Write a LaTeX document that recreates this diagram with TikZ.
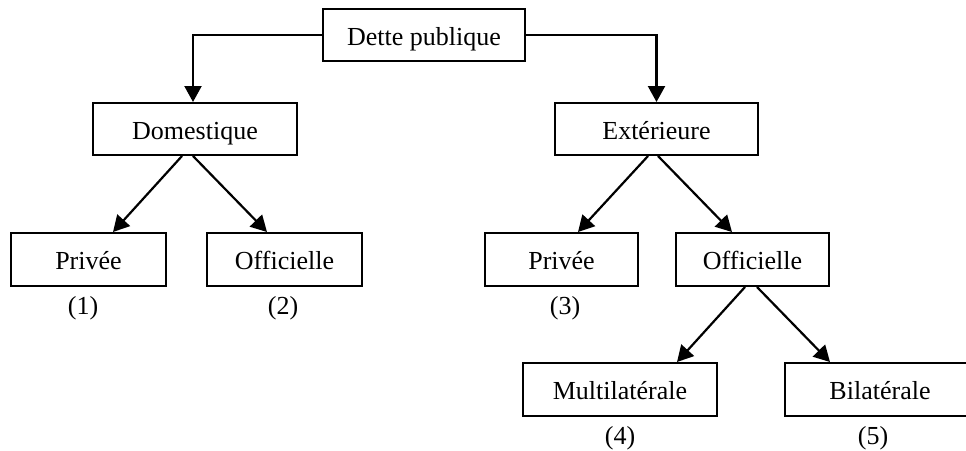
\documentclass[tikz,border=0pt]{standalone}
\usepackage{fontspec}
\setmainfont{Liberation Serif}
\usetikzlibrary{arrows.meta}
\begin{document}
\begin{tikzpicture}[x=1pt,y=-1pt,
  box/.style={draw, line width=2pt, rectangle, inner sep=0pt, text height=23pt, text depth=3pt, font=\fontsize{26}{30}\selectfont},
  lbl/.style={inner sep=0pt, font=\fontsize{26}{30}\selectfont},
  arr/.style={line width=2.2pt, -{Triangle[length=16pt,width=17pt]}}]
\useasboundingbox (0,0) rectangle (966,450);
\begin{scope}
\clip (0,0) rectangle (966,450);
\node[box, minimum width=202pt, minimum height=52pt] (dette) at (424,35) {Dette publique};
\node[box, minimum width=204pt, minimum height=52pt] (dom) at (195,129) {Domestique};
\node[box, minimum width=203pt, minimum height=52pt] (ext) at (656.5,129) {Extérieure};
\node[box, minimum width=155pt, minimum height=53pt] (p1) at (88.5,259.5) {Privée};
\node[box, minimum width=155pt, minimum height=53pt] (o1) at (284.5,259.5) {Officielle};
\node[box, minimum width=153pt, minimum height=53pt] (p2) at (561.5,259.5) {Privée};
\node[box, minimum width=153pt, minimum height=53pt] (o2) at (752.5,259.5) {Officielle};
\node[box, minimum width=194pt, minimum height=53pt] (multi) at (620,389.5) {Multilatérale};
\node[box, minimum width=190pt, minimum height=53pt] (bi) at (880,389.5) {Bilatérale};
\end{scope}
\node[lbl] (l1) at (83,308) {(1)};
\node[lbl] (l2) at (283,308) {(2)};
\node[lbl] (l3) at (565,308) {(3)};
\node[lbl] (l4) at (620,438) {(4)};
\node[lbl] (l5) at (873,438) {(5)};
\draw[arr] (dette.west) -| ([xshift=-2pt]dom.north);
\draw[arr] (dette.east) -| (ext.north);
\draw[arr] ([xshift=-13pt]dom.south) -- ([xshift=24.5pt]p1.north);
\draw[arr] ([xshift=-2pt]dom.south) -- ([xshift=-17.5pt]o1.north);
\draw[arr] ([xshift=-8.5pt]ext.south) -- ([xshift=16.5pt]p2.north);
\draw[arr] ([xshift=1.5pt]ext.south) -- ([xshift=-20.5pt]o2.north);
\draw[arr] ([xshift=-7.5pt]o2.south) -- ([xshift=57pt]multi.north);
\draw[arr] ([xshift=4.5pt]o2.south) -- ([xshift=-50pt]bi.north);
\end{tikzpicture}
\end{document}
